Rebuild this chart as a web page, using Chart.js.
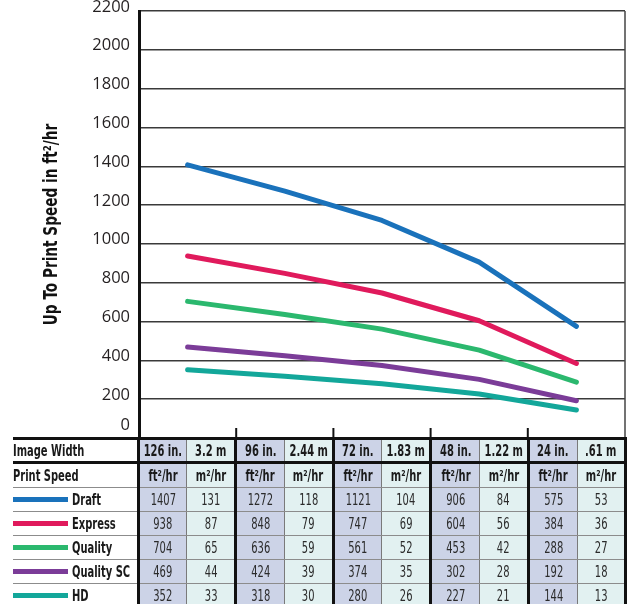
<!DOCTYPE html>
<html>
<head>
<meta charset="utf-8">
<script src="https://cdn.jsdelivr.net/npm/chart.js@4/dist/chart.umd.min.js"></script>
<style>
  body { margin: 0; width: 633px; height: 604px; overflow: hidden; background: #fff; position: relative; }
  #wrap { position: absolute; left: 0; top: 0; width: 633px; height: 440px; }
  table {
    position: absolute; left: 13px; top: 437px; width: 613px;
    border-collapse: collapse; table-layout: fixed;
    font-family: "DejaVu Sans Condensed", "DejaVu Sans", sans-serif;
    font-size: 16px; color: #2b2b2b;
    border-top: 3px solid #111;
  }
  td { height: 23px; padding: 0; text-align: center; border-bottom: 1px solid #8c8c8c; white-space: nowrap; overflow: hidden; }
  td .c { display: inline-block; transform: scaleX(0.69); margin: 0 -30px; }
  td.lab { text-align: left; font-weight: bold; background: #fff; color: #1a1a1a; }
  td.lab .c { margin: 0; transform-origin: left center; }
  td.ft { background: #ccd3e7; border-left: 3px solid #111; }
  td.m { background: #e2f1f1; border-left: 1px solid #7a7a7a; }
  td.last { border-right: 3px solid #111; }
  tr.head td { font-weight: bold; color: #1a1a1a; }
  tr.first td { border-bottom: 3px solid #111; height: 21px; }
  .sw { display: inline-block; width: 55px; height: 5px; vertical-align: middle; margin-right: 4px; position: relative; top: -1px; }
</style>
</head>
<body>
<div id="wrap"><canvas id="chart"></canvas></div>
<table id="tbl"></table>
<script>
const categories = ['126 in.', '96 in.', '72 in.', '48 in.', '24 in.'];
const metricWidths = ['3.2 m', '2.44 m', '1.83 m', '1.22 m', '.61 m'];
const modes = ['Draft', 'Express', 'Quality', 'Quality SC', 'HD'];
const colors = ['#1a72bb', '#e01a5c', '#2bb86e', '#7b3c98', '#13a79a'];

const draftFt = [1407, 1272, 1121, 906, 575];
const expressFt = [938, 848, 747, 604, 384];
const qualityFt = [704, 636, 561, 453, 288];
const qualitySCFt = [469, 424, 374, 302, 192];
const hdFt = [352, 318, 280, 227, 144];

const draftM = [131, 118, 104, 84, 53];
const expressM = [87, 79, 69, 56, 36];
const qualityM = [65, 59, 52, 42, 27];
const qualitySCM = [44, 39, 35, 28, 18];
const hdM = [33, 30, 26, 21, 13];

const yTicks = [0, 200, 400, 600, 800, 1000, 1200, 1400, 1600, 1800, 2000, 2200];
const yTitle = 'Up To Print Speed in ft²/hr';

const ftSeries = [draftFt, expressFt, qualityFt, qualitySCFt, hdFt];
const mSeries = [draftM, expressM, qualityM, qualitySCM, hdM];

// right frame line, upward ticks at column boundaries, condensed axis title
const framePlugin = {
  id: 'frame',
  afterDraw(chart) {
    const { ctx, chartArea } = chart;
    const x = chart.scales.x;
    ctx.save();
    ctx.strokeStyle = '#444';
    ctx.lineWidth = 1.5;
    ctx.beginPath();
    ctx.moveTo(chartArea.right, chartArea.top);
    ctx.lineTo(chartArea.right, chartArea.bottom);
    ctx.stroke();
    ctx.strokeStyle = '#111';
    ctx.lineWidth = 2;
    for (let i = 0; i < categories.length - 1; i++) {
      const px = (x.getPixelForValue(i) + x.getPixelForValue(i + 1)) / 2;
      ctx.beginPath();
      ctx.moveTo(px, chartArea.bottom - 10);
      ctx.lineTo(px, chartArea.bottom);
      ctx.stroke();
    }
    // axis title, squeezed like a condensed face
    ctx.translate(52, (chartArea.top + chartArea.bottom) / 2);
    ctx.rotate(-Math.PI / 2);
    ctx.scale(0.8, 1);
    ctx.font = 'bold 19px "DejaVu Sans Condensed", "DejaVu Sans", sans-serif';
    ctx.fillStyle = '#111';
    ctx.textAlign = 'center';
    ctx.textBaseline = 'middle';
    ctx.fillText(yTitle, 0, 0);
    ctx.restore();
  }
};

new Chart(document.getElementById('chart'), {
  type: 'line',
  data: {
    labels: categories,
    datasets: modes.map((m, i) => ({
      label: m,
      data: ftSeries[i],
      borderColor: colors[i],
      backgroundColor: colors[i],
      borderWidth: 5,
      borderCapStyle: 'round',
      borderJoinStyle: 'round',
      pointRadius: 0,
      tension: 0
    }))
  },
  options: {
    responsive: true,
    maintainAspectRatio: false,
    animation: false,
    layout: { padding: { top: 11, right: 8, left: 0, bottom: 0 } },
    plugins: { legend: { display: false }, tooltip: { enabled: false } },
    scales: {
      x: {
        offset: true,
        ticks: { display: false },
        grid: { display: false, drawTicks: false },
        border: { display: true, color: '#111', width: 3 },
        afterFit: s => { s.height = 2; s.paddingLeft = 0; s.paddingRight = 0; }
      },
      y: {
        min: 0,
        max: 2200,
        afterBuildTicks: s => { s.ticks = yTicks.map(v => ({ value: v })); },
        afterFit: s => { s.width = 139; s.paddingTop = 0; s.paddingBottom = 0; },
        ticks: {
          padding: 9,
          color: '#231f20',
          font: { family: '"Open Sans", "Noto Sans", sans-serif', size: 16.5, lineHeight: 0.5 },
          // empty extra lines just nudge the label up off its grid line
          callback: v => v === 0 ? ['0', '', '', ''] : [String(v), '']
        },
        grid: { color: '#3a3a3a', lineWidth: 1.5, drawTicks: false },
        border: { color: '#111', width: 3 },
        title: { display: false }
      }
    }
  },
  plugins: [framePlugin]
});

// table below the chart
const cell = t => `<span class="c">${t}</span>`;
const tbl = document.getElementById('tbl');
let html = '<colgroup><col style="width:125px">';
for (let i = 0; i < 10; i++) html += '<col style="width:48.8px">';
html += '</colgroup>';

html += `<tr class="head first"><td class="lab">${cell('Image Width')}</td>`;
categories.forEach((c, i) => {
  html += `<td class="ft">${cell(c)}</td><td class="m${i === 4 ? ' last' : ''}">${cell(metricWidths[i])}</td>`;
});
html += '</tr>';

html += `<tr class="head"><td class="lab">${cell('Print Speed')}</td>`;
categories.forEach((c, i) => {
  html += `<td class="ft">${cell('ft²/hr')}</td><td class="m${i === 4 ? ' last' : ''}">${cell('m²/hr')}</td>`;
});
html += '</tr>';

modes.forEach((m, r) => {
  html += `<tr><td class="lab"><span class="sw" style="background:${colors[r]}"></span>${cell(m)}</td>`;
  categories.forEach((c, i) => {
    html += `<td class="ft">${cell(ftSeries[r][i])}</td><td class="m${i === 4 ? ' last' : ''}">${cell(mSeries[r][i])}</td>`;
  });
  html += '</tr>';
});
tbl.innerHTML = html;
</script>
</body>
</html>
